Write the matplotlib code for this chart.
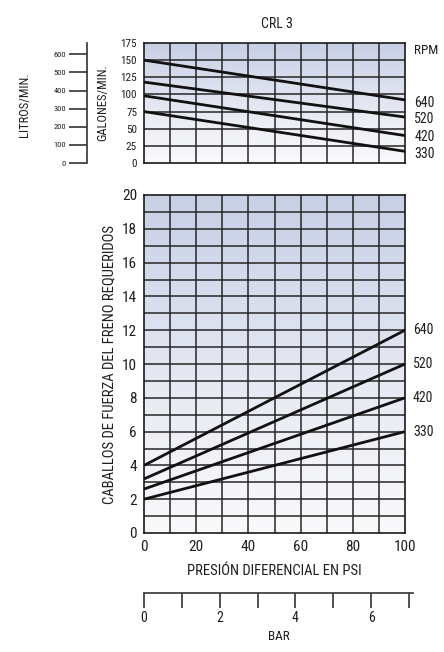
import matplotlib
matplotlib.use("Agg")
import matplotlib.pyplot as plt
import numpy as np
from matplotlib import font_manager
from matplotlib.colors import LinearSegmentedColormap

# ---- data ----
psi = [0, 100]
rpm_labels = ["640", "520", "420", "330"]
flow_gpm = {
    "640": [150, 92],
    "520": [118, 67],
    "420": [98, 40],
    "330": [75, 17],
}
brake_hp = {
    "640": [4.0, 12.0],
    "520": [3.2, 10.0],
    "420": [2.6, 8.0],
    "330": [2.0, 6.0],
}
gpm_ticks = [0, 25, 50, 75, 100, 125, 150, 175]
lpm_ticks = [0, 100, 200, 300, 400, 500, 600]
hp_ticks = [0, 2, 4, 6, 8, 10, 12, 14, 16, 18, 20]
psi_ticks = [0, 20, 40, 60, 80, 100]
bar_ticks = [0, 1, 2, 3, 4, 5, 6, 7]
bar_ticklabels = ["0", "", "2", "", "4", "", "6", ""]

GAL_TO_L = 3.78541
PSI_PER_BAR = 14.5038

# ---- font ----
family = "DejaVu Sans"
for cand in ["Liberation Sans Narrow", "Roboto Condensed", "Open Sans Condensed"]:
    try:
        font_manager.findfont(cand, fallback_to_default=False)
        family = cand
        break
    except Exception:
        pass
plt.rcParams["font.family"] = [family, "DejaVu Sans"]
TXT = "#1e1e1e"
GRID = "#262626"

W, H = 444, 652
fig = plt.figure(figsize=(W / 100, H / 100), dpi=100)
fig.patch.set_facecolor("white")


def box(left, top, right, bottom):
    return [left / W, 1 - bottom / H, (right - left) / W, (bottom - top) / H]


grad = LinearSegmentedColormap.from_list(
    "g", ["#fafafc", "#eceef5", "#dadfee", "#c8d0e6"])


def shade(ax, xlim, ylim):
    g = np.linspace(0, 1, 256).reshape(-1, 1)
    ax.imshow(g, cmap=grad, origin="lower", aspect="auto",
              extent=[xlim[0], xlim[1], ylim[0], ylim[1]], zorder=0)


# ---- top panel: flow ----
ax1 = fig.add_axes(box(144, 43, 405, 163))
shade(ax1, (0, 100), (0, 175))
ax1.set_xlim(0, 100)
ax1.set_ylim(0, 175)
for x in range(10, 100, 10):
    ax1.axvline(x, color=GRID, lw=1.1, zorder=1)
for y in range(25, 175, 25):
    ax1.axhline(y, color=GRID, lw=1.1, zorder=1)
for k in rpm_labels:
    ax1.plot(psi, flow_gpm[k], color="#111111", lw=2.0, zorder=3,
             solid_capstyle="butt")
ax1.set_xticks([])
ax1.set_yticks(gpm_ticks)
ax1.set_yticklabels([str(t) for t in gpm_ticks], fontsize=8, color=TXT)
ax1.tick_params(axis="y", length=0, pad=5)
for s in ax1.spines.values():
    s.set_color("#1a1a1a")
    s.set_linewidth(1.2)

# litres scale sharing the flow range
axl = fig.add_axes(box(87, 43, 88, 163))
axl.set_ylim(0, 175 * GAL_TO_L)
axl.set_xticks([])
axl.set_yticks(lpm_ticks)
axl.set_yticklabels([str(t) for t in lpm_ticks], fontsize=6, color=TXT)
axl.tick_params(axis="y", length=13, width=1.2, color="#333333", pad=2)
axl.patch.set_alpha(0)
for name, s in axl.spines.items():
    s.set_visible(name == "left")
axl.spines["left"].set_linewidth(1.2)
axl.spines["left"].set_color("#333333")

# ---- bottom panel: horsepower ----
ax2 = fig.add_axes(box(144, 195, 405, 533))
shade(ax2, (0, 100), (0, 20))
ax2.set_xlim(0, 100)
ax2.set_ylim(0, 20)
for x in range(10, 100, 10):
    ax2.axvline(x, color=GRID, lw=1.1, zorder=1)
for y in range(1, 20):
    ax2.axhline(y, color=GRID, lw=1.1, zorder=1)
for k in rpm_labels:
    ax2.plot(psi, brake_hp[k], color="#111111", lw=2.0, zorder=3,
             solid_capstyle="butt")
ax2.set_xticks(psi_ticks)
ax2.set_xticklabels([str(t) for t in psi_ticks], fontsize=11, color=TXT)
ax2.set_yticks(hp_ticks)
ax2.set_yticklabels([str(t) for t in hp_ticks], fontsize=11, color=TXT)
ax2.tick_params(axis="both", length=0, pad=5)
for s in ax2.spines.values():
    s.set_color("#1a1a1a")
    s.set_linewidth(1.2)
ax2.set_xlabel("PRESIÓN DIFERENCIAL EN PSI", fontsize=10.5, color=TXT,
               labelpad=7)
ax2.set_ylabel("CABALLOS DE FUERZA DEL FRENO REQUERIDOS", fontsize=10.5,
               color=TXT, labelpad=4)

# ---- bar scale ----
px_per_psi = (405 - 144) / 100
right_px = 413
axb = fig.add_axes(box(144, 593, right_px, 594))
axb.set_xlim(0, (right_px - 144) / px_per_psi / PSI_PER_BAR)
axb.set_yticks([])
axb.patch.set_alpha(0)
for name, s in axb.spines.items():
    s.set_visible(name == "top")
axb.spines["top"].set_linewidth(1.2)
axb.spines["top"].set_color("#333333")
axb.xaxis.set_ticks_position("top")
axb.set_xticks(bar_ticks)
axb.tick_params(axis="x", direction="in", length=11, width=1.2,
                color="#333333", labeltop=False, labelbottom=False)
for t, lab in zip(bar_ticks, bar_ticklabels):
    if lab:
        axb.text(t, -24, lab, transform=axb.get_xaxis_transform(),
                 fontsize=10, color=TXT, ha="center", va="center")
fig.text((144 + 413) / 2 / W, 1 - 636 / H, "BAR", fontsize=9.5, color=TXT,
         ha="center", va="center")

# ---- titles and side labels ----
fig.text(277 / W, 1 - 24 / H, "CRL 3", fontsize=10, color=TXT,
         ha="center", va="center")
fig.text(25 / W, 1 - 105 / H, "LITROS/MIN.", fontsize=9, color=TXT,
         rotation=90, ha="center", va="center")
fig.text(103 / W, 1 - 103 / H, "GALONES/MIN.", fontsize=9, color=TXT,
         rotation=90, ha="center", va="center")
fig.text(414 / W, 1 - 50 / H, "RPM", fontsize=9.5, color=TXT,
         ha="left", va="center")

top_label_y = {"640": 88, "520": 64, "420": 38, "330": 13}
for k in rpm_labels:
    ax1.text(103.5, top_label_y[k], k, fontsize=10, color=TXT,
             ha="left", va="center", clip_on=False)
    ax2.text(103.0, brake_hp[k][1], k, fontsize=10, color=TXT,
             ha="left", va="center", clip_on=False)

fig.savefig("out.png", dpi=100)
